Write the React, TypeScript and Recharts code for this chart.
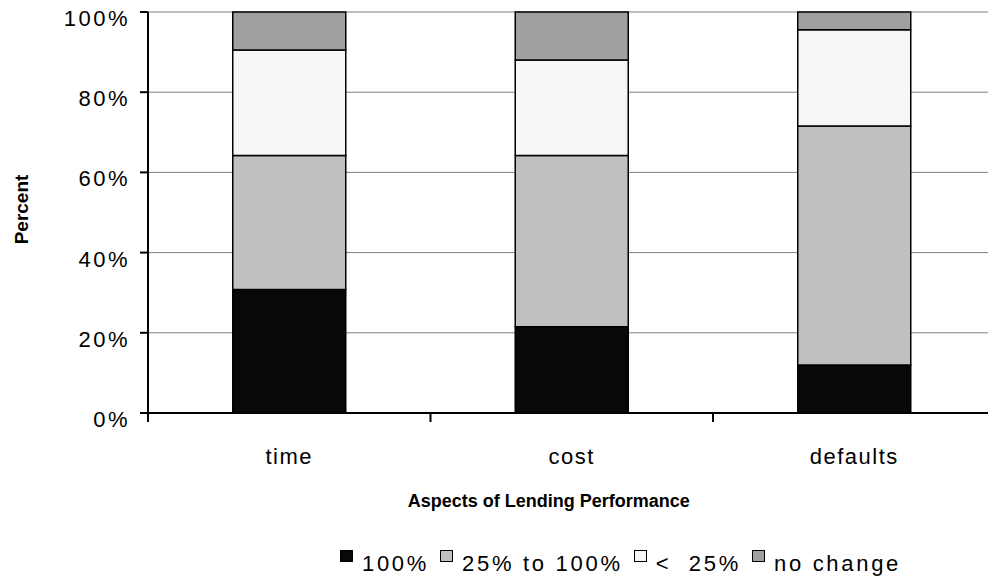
import React from 'react';
import { BarChart, Bar, XAxis, YAxis, CartesianGrid, Label } from 'recharts';

// share of respondents per aspect, stacked bottom → top
const categories = ['time', 'cost', 'defaults'];
const fullChange = [30.8, 21.5, 12.0];
const midChange = [33.4, 42.7, 59.6];
const smallChange = [26.3, 23.8, 24.0];
const noChange = [9.5, 12.0, 4.4];

const seriesKeys = ['full', 'mid', 'small', 'none'];
const seriesNames = ['100%', '25% to 100%', '<  25%', 'no change'];
const seriesColors = ['#080808', '#c0c0c0', '#f6f6f6', '#a0a0a0'];

const yTicks = [0, 20, 40, 60, 80, 100];

const FONT = '"Liberation Sans", Arial, sans-serif';
const CHART_W = 1000;
const Y_AXIS_W = 148;
const RIGHT = 4.5;

const data = categories.map((name, i) => ({
    name,
    full: fullChange[i],
    mid: midChange[i],
    small: smallChange[i],
    none: noChange[i],
}));

const YTick = ({ x, y, payload }: any) => (
    <text
        x={x}
        y={y + 14}
        textAnchor="end"
        fontFamily={FONT}
        fontSize={22}
        letterSpacing={2.5}
        fill="#000"
    >
        {`${payload.value}%`}
    </text>
);

// category label plus the small tick marks on the band edges
const CatTick = ({ x, y, payload, index }: any) => {
    const half =
        payload.offset || (CHART_W - Y_AXIS_W - RIGHT) / categories.length / 2;
    const left = x - half;
    const right = x + half;
    return (
        <g>
            <line x1={left} y1={y} x2={left} y2={y + 9} stroke="#000" strokeWidth={2} />
            {index === categories.length - 1 && (
                <line x1={right} y1={y} x2={right} y2={y + 9} stroke="#000" strokeWidth={2} />
            )}
            <text
                x={x}
                y={y + 51}
                textAnchor="middle"
                fontFamily={FONT}
                fontSize={22}
                letterSpacing={1.5}
                fill="#000"
            >
                {payload.value}
            </text>
        </g>
    );
};

const renderXTitle = ({ viewBox }: any) => (
    <text
        x={viewBox.x + viewBox.width / 2 - 23}
        y={viewBox.y + 94}
        textAnchor="middle"
        fontFamily={FONT}
        fontSize={18}
        fontWeight="bold"
        fill="#000"
    >
        Aspects of Lending Performance
    </text>
);

const renderYTitle = ({ viewBox }: any) => {
    const cx = 28;
    const cy = viewBox.y + viewBox.height / 2 - 3;
    return (
        <text
            x={cx}
            y={cy}
            transform={`rotate(-90, ${cx}, ${cy})`}
            textAnchor="middle"
            fontFamily={FONT}
            fontSize={19}
            fontWeight="bold"
            fill="#000"
        >
            Percent
        </text>
    );
};

export default function App() {
    return (
        <div
            style={{
                position: 'absolute',
                left: 0,
                top: 0,
                width: 988,
                height: 581,
                overflow: 'hidden',
                background: '#fff',
            }}
        >
            <BarChart
                width={CHART_W}
                height={581}
                data={data}
                margin={{ top: 12, right: RIGHT, bottom: 0, left: 0 }}
                barCategoryGap="30%"
            >
                <CartesianGrid vertical={false} stroke="#808080" strokeWidth={1} />
                <XAxis
                    dataKey="name"
                    height={168}
                    interval={0}
                    tickLine={false}
                    tickSize={0}
                    tickMargin={0}
                    axisLine={{ stroke: '#000', strokeWidth: 2 }}
                    tick={<CatTick />}
                >
                    <Label content={renderXTitle} />
                </XAxis>
                <YAxis
                    width={Y_AXIS_W}
                    domain={[0, 100]}
                    ticks={yTicks}
                    tickSize={8}
                    tickMargin={10}
                    axisLine={{ stroke: '#000', strokeWidth: 2 }}
                    tickLine={{ stroke: '#000', strokeWidth: 2 }}
                    tick={<YTick />}
                >
                    <Label content={renderYTitle} />
                </YAxis>
                {seriesKeys.map((key, i) => (
                    <Bar
                        key={key}
                        dataKey={key}
                        name={seriesNames[i]}
                        stackId="a"
                        fill={seriesColors[i]}
                        stroke="#000"
                        strokeWidth={1.5}
                        isAnimationActive={false}
                    />
                ))}
            </BarChart>

            <div
                style={{
                    position: 'absolute',
                    left: 340,
                    top: 553,
                    display: 'flex',
                    alignItems: 'flex-start',
                    fontFamily: FONT,
                    fontSize: 22,
                    lineHeight: '22px',
                    letterSpacing: 2.7,
                    color: '#000',
                    whiteSpace: 'pre',
                }}
            >
                {seriesNames.map((name, i) => (
                    <div key={name} style={{ display: 'flex', alignItems: 'flex-start', marginRight: 11 }}>
                        <span
                            style={{
                                width: 11,
                                height: 10,
                                marginTop: -3,
                                marginRight: 9,
                                background: seriesColors[i],
                                border: '1.5px solid #000',
                            }}
                        />
                        <span>{name}</span>
                    </div>
                ))}
            </div>
        </div>
    );
}
